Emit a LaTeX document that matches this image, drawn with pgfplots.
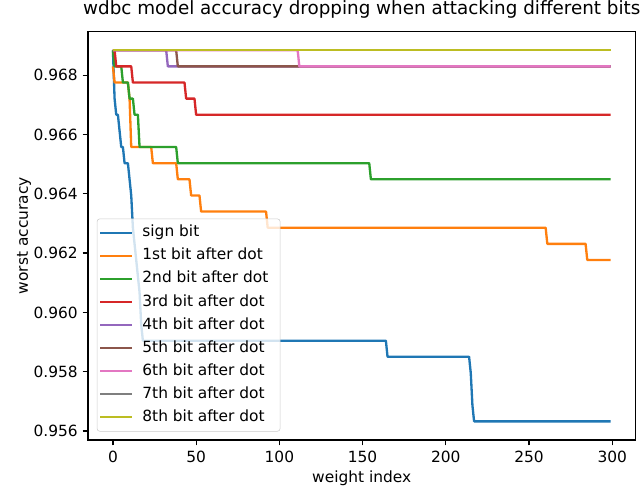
\documentclass[border=0pt]{standalone}
\usepackage{pgfplots}
\pgfplotsset{compat=1.18}
\usepackage{fontspec}
\setmainfont{DejaVu Sans}
\definecolor{c0}{HTML}{1F77B4}
\definecolor{c1}{HTML}{FF7F0E}
\definecolor{c2}{HTML}{2CA02C}
\definecolor{c3}{HTML}{D62728}
\definecolor{c4}{HTML}{9467BD}
\definecolor{c5}{HTML}{8C564B}
\definecolor{c6}{HTML}{E377C2}
\definecolor{c7}{HTML}{7F7F7F}
\definecolor{c8}{HTML}{BCBD22}
\begin{document}
\begin{tikzpicture}
\useasboundingbox (-63.4pt,-35.3pt) rectangle (398.2pt,316.8pt);
\begin{axis}[
  scale only axis, width=394.2pt, height=294pt,
  xmin=-14.95, xmax=313.95, ymin=0.955702, ymax=0.969466,
  xtick={0,50,100,150,200,250,300},
  xticklabels={0,50,100,150,200,250,300},
  ytick={0.956,0.958,0.960,0.962,0.964,0.966,0.968},
  yticklabels={0.956,0.958,0.960,0.962,0.964,0.966,0.968},
  scaled ticks=false,
  tick align=outside, major tick length=3.9pt,
  tick style={black, line width=0.89pt},
  xtick pos=bottom, ytick pos=left,
  axis line style={line width=0.89pt},
  ticklabel style={font=\fontsize{11.1}{13}\selectfont},
  xticklabel style={yshift=-0.5pt},
  title={wdbc model accuracy dropping when attacking different bits},
  title style={font=\fontsize{13.2}{15}\selectfont, at={(axis description cs:0.5,1)}, anchor=base, yshift=6.3pt},
  xlabel={weight index},
  xlabel style={font=\fontsize{11.1}{13}\selectfont, at={(axis description cs:0.5,0)}, anchor=center, yshift=-27.4pt},
  ylabel={worst accuracy},
  ylabel style={font=\fontsize{11.1}{13}\selectfont, at={(axis description cs:-0.1167,0.5)}, anchor=center},
  every axis plot/.append style={line width=1.67pt, line join=round},
  legend cell align=left,
  legend image code/.code={\draw[#1, line width=1.67pt] (0pt,0pt) -- (22.5pt,0pt);},
  legend style={at={(axis description cs:0,0)}, anchor=south west, xshift=6.3pt, yshift=6pt,
    fill=white, fill opacity=0.8, draw opacity=1, text opacity=1, draw=black!20,
    rounded corners=2pt, inner xsep=1.5pt, inner ysep=1.8pt,
    font=\fontsize{11.1}{13}\selectfont,
    nodes={text height=8.4pt, text depth=2.6pt, inner ysep=2.8pt, inner xsep=7pt}},
]
% sign bit
\addplot[c0] coordinates {(0,0.968840)(1,0.967208)(2,0.966664)(3,0.966664)(4,0.966120)(5,0.965576)(6,0.965576)(7,0.965032)(8,0.965032)(9,0.965032)(10,0.964488)(11,0.963944)(12,0.962856)(13,0.962312)(14,0.961768)(15,0.961224)(16,0.960680)(17,0.959592)(18,0.959048)(164,0.959048)(165,0.958504)(214,0.958504)(215,0.957960)(216,0.956872)(217,0.956328)(299,0.956328)};
\addlegendentry{sign bit}
% 1st
\addplot[c1] coordinates {(0,0.968296)(1,0.967752)(9,0.967752)(10,0.967208)(11,0.965576)(23,0.965576)(24,0.965032)(38,0.965032)(39,0.964488)(46,0.964488)(47,0.963944)(52,0.963944)(53,0.963400)(92,0.963400)(93,0.962856)(260,0.962856)(261,0.962312)(284,0.962312)(285,0.961768)(299,0.961768)};
\addlegendentry{1st bit after dot}
% 2nd
\addplot[c2] coordinates {(0,0.968840)(1,0.968296)(5,0.968296)(6,0.967752)(9,0.967752)(10,0.967208)(12,0.967208)(13,0.966664)(15,0.966664)(16,0.965576)(38,0.965576)(39,0.965032)(154,0.965032)(155,0.964488)(299,0.964488)};
\addlegendentry{2nd bit after dot}
% 3rd
\addplot[c3] coordinates {(0,0.968840)(1,0.968840)(2,0.968296)(11,0.968296)(12,0.967752)(43,0.967752)(44,0.967208)(49,0.967208)(50,0.966664)(299,0.966664)};
\addlegendentry{3rd bit after dot}
% 4th
\addplot[c4] coordinates {(0,0.968840)(32,0.968840)(33,0.968296)(299,0.968296)};
\addlegendentry{4th bit after dot}
% 5th
\addplot[c5] coordinates {(0,0.968840)(38,0.968840)(39,0.968296)(299,0.968296)};
\addlegendentry{5th bit after dot}
% 6th
\addplot[c6] coordinates {(0,0.968840)(111,0.968840)(112,0.968296)(299,0.968296)};
\addlegendentry{6th bit after dot}
% 7th
\addplot[c7] coordinates {(0,0.968840)(299,0.968840)};
\addlegendentry{7th bit after dot}
% 8th
\addplot[c8] coordinates {(0,0.968840)(299,0.968840)};
\addlegendentry{8th bit after dot}
\end{axis}
\end{tikzpicture}
\end{document}
